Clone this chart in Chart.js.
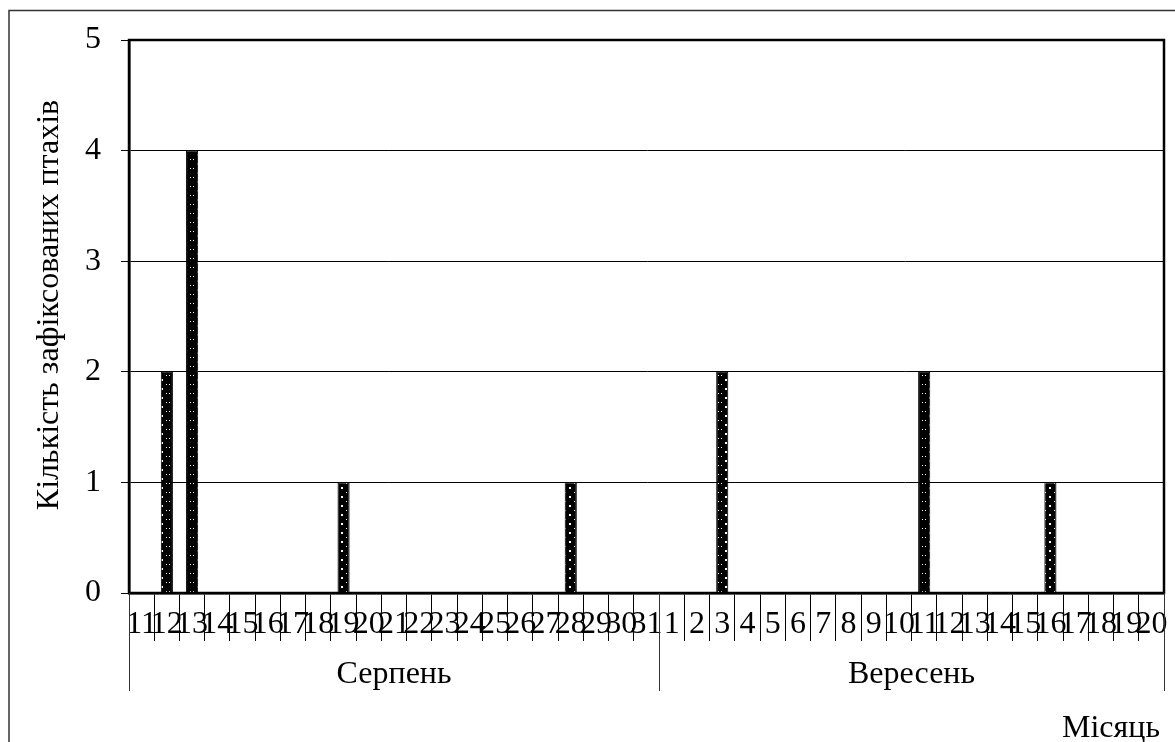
<!DOCTYPE html>
<html>
<head>
<meta charset="utf-8">
<script src="https://cdn.jsdelivr.net/npm/chart.js@4/dist/chart.umd.min.js"></script>
<style>
  html, body { margin: 0; padding: 0; background: #fff; }
  canvas { display: block; }
</style>
</head>
<body>
<canvas id="grafica" width="1175" height="742"></canvas>
<script>
// дні спостережень
const augustDays = ['11','12','13','14','15','16','17','18','19','20','21','22','23','24','25','26','27','28','29','30','31'];
const septemberDays = ['1','2','3','4','5','6','7','8','9','10','11','12','13','14','15','16','17','18','19','20'];
// кількість птахів за день
const augustCounts = [0,2,4,0,0,0,0,0,1,0,0,0,0,0,0,0,0,1,0,0,0];
const septemberCounts = [0,0,2,0,0,0,0,0,0,0,2,0,0,0,0,1,0,0,0,0];
const months = ['Серпень', 'Вересень'];
const yTitle = 'Кількість зафіксованих птахів';
const xTitle = 'Місяць';

const labels = [...augustDays, ...septemberDays];
const counts = [...augustCounts, ...septemberCounts];
const groupSizes = [augustDays.length, septemberDays.length];

const serif = '"Liberation Serif", "Times New Roman", serif';

// візерунок для стовпчиків: чорний з білими крапками
function dotPattern() {
  const c = document.createElement('canvas');
  c.width = 12; c.height = 9;
  const g = c.getContext('2d');
  g.fillStyle = '#000';
  g.fillRect(0, 0, 12, 9);
  g.fillStyle = '#fff';
  g.fillRect(5, 1, 2, 2);
  g.fillRect(10, 6, 1, 1);
  g.fillRect(1, 6, 1, 1);
  return g.createPattern(c, 'repeat');
}

// рамки, підписи місяців та назви осей
const extras = {
  id: 'extras',
  afterDraw(chart) {
    const { ctx, chartArea, scales } = chart;
    const x = scales.x;
    const step = x.getPixelForValue(1) - x.getPixelForValue(0);
    const edge = i => x.getPixelForValue(i) - step / 2;
    ctx.save();
    // зовнішня рамка
    ctx.strokeStyle = '#333';
    ctx.lineWidth = 1.5;
    ctx.beginPath();
    ctx.moveTo(9, 742);
    ctx.lineTo(9, 10.5);
    ctx.lineTo(1175, 10.5);
    ctx.stroke();
    // рамка області графіка
    ctx.strokeStyle = '#000';
    ctx.lineWidth = 2.5;
    ctx.strokeRect(chartArea.left, chartArea.top, chartArea.right - chartArea.left, chartArea.bottom - chartArea.top);
    // групи місяців
    ctx.lineWidth = 1;
    ctx.strokeStyle = '#333';
    ctx.fillStyle = '#000';
    ctx.font = '32px ' + serif;
    ctx.textAlign = 'center';
    ctx.textBaseline = 'alphabetic';
    let start = 0;
    const bounds = [];
    groupSizes.forEach((n, k) => {
      const l = edge(start);
      const r = edge(start + n);
      bounds.push(l);
      if (k === groupSizes.length - 1) bounds.push(r);
      ctx.fillText(months[k], (l + r) / 2, 683);
      start += n;
    });
    bounds.forEach(b => {
      const px = Math.round(b) + 0.5;
      ctx.beginPath();
      ctx.moveTo(px, chartArea.bottom);
      ctx.lineTo(px, 691);
      ctx.stroke();
    });
    ctx.textAlign = 'right';
    ctx.fillText(xTitle, 1160, 737);
    // назва осі Y
    ctx.translate(50, 305);
    ctx.rotate(-Math.PI / 2);
    ctx.textAlign = 'center';
    ctx.textBaseline = 'middle';
    ctx.fillText(yTitle, 0, 0);
    ctx.restore();
  }
};

new Chart(document.getElementById('grafica').getContext('2d'), {
  type: 'bar',
  data: {
    labels: labels,
    datasets: [{
      data: counts,
      backgroundColor: dotPattern(),
      borderColor: '#000',
      borderWidth: 1,
      categoryPercentage: 1,
      barPercentage: 0.48
    }]
  },
  options: {
    responsive: false,
    animation: false,
    devicePixelRatio: 1,
    layout: { padding: { top: 40, right: 11, left: 0, bottom: 0 } },
    plugins: { legend: { display: false }, tooltip: { enabled: false } },
    scales: {
      x: {
        offset: true,
        grid: { offset: true, drawOnChartArea: false, drawTicks: true, tickLength: 48, color: '#000', lineWidth: 1 },
        border: { display: true, color: '#000', width: 2.5 },
        ticks: { autoSkip: false, maxRotation: 0, minRotation: 0, padding: -36, color: '#000', font: { family: serif, size: 32 } },
        afterFit: s => { s.height = 149; }
      },
      y: {
        min: 0,
        max: 5,
        ticks: { stepSize: 1, padding: 20, color: '#000', font: { family: serif, size: 32 } },
        grid: { color: '#000', lineWidth: 1, tickLength: 8 },
        border: { display: true, color: '#000', width: 2.5 },
        afterFit: s => { s.width = 129; }
      }
    }
  },
  plugins: [extras]
});
</script>
</body>
</html>
